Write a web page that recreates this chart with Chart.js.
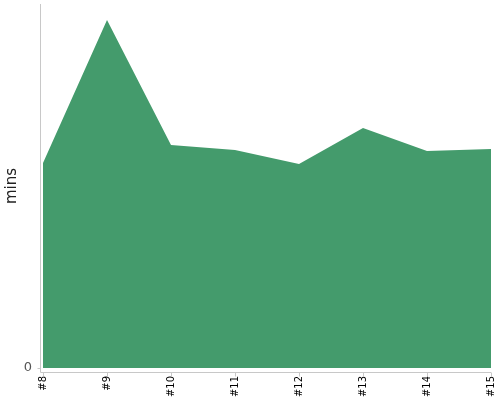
<!DOCTYPE html>
<html>
<head>
<meta charset="utf-8">
<script src="https://cdn.jsdelivr.net/npm/chart.js@4/dist/chart.umd.min.js"></script>
<style>
  html, body { margin: 0; padding: 0; background: #fff; }
  #wrap { width: 500px; height: 400px; }
</style>
</head>
<body>
<div id="wrap"><canvas id="c" width="500" height="400"></canvas></div>
<script>
const categories = ["#8", "#9", "#10", "#11", "#12", "#13", "#14", "#15"];
const minsValues = [20.5, 34.8, 22.3, 21.8, 20.4, 24.0, 21.7, 21.9];
const yTickLabels = [0];
const yMax = 36.4;

const axisLines = {
  id: 'axisLines',
  afterDraw(chart) {
    const ctx = chart.ctx;
    const a = chart.chartArea;
    const xs = chart.scales.x;
    const ys = chart.scales.y;
    ctx.save();
    ctx.strokeStyle = '#c8c8c8';
    ctx.lineWidth = 1;
    const axX = a.left - 2.5;
    const axY = a.bottom + 4.5;
    ctx.beginPath();
    ctx.moveTo(axX, a.top);
    ctx.lineTo(axX, axY);
    ctx.lineTo(a.right, axY);
    for (let i = 0; i < categories.length; i++) {
      const px = Math.round(xs.getPixelForValue(i)) + 0.5;
      ctx.moveTo(px, axY);
      ctx.lineTo(px, axY + 4);
    }
    yTickLabels.forEach(v => {
      const py = Math.round(ys.getPixelForValue(v)) + 0.5;
      ctx.moveTo(axX, py);
      ctx.lineTo(axX - 3, py);
    });
    ctx.stroke();
    ctx.restore();
  }
};

function zeroPad(scale) {
  scale.paddingLeft = 0; scale.paddingRight = 0;
  scale.paddingTop = 0; scale.paddingBottom = 0;
}

new Chart(document.getElementById('c'), {
  type: 'line',
  data: {
    labels: categories,
    datasets: [{
      label: 'mins',
      data: minsValues,
      fill: 'origin',
      backgroundColor: 'rgb(68,155,108)',
      borderWidth: 0,
      borderColor: 'rgb(68,155,108)',
      pointRadius: 0,
      tension: 0
    }]
  },
  options: {
    responsive: false,
    animation: false,
    devicePixelRatio: 1,
    layout: { padding: { top: 4, right: 9, left: 0, bottom: 0 } },
    plugins: { legend: { display: false }, tooltip: { enabled: false } },
    scales: {
      x: {
        offset: false,
        grid: { display: false, drawTicks: false },
        border: { display: false },
        ticks: {
          minRotation: 90, maxRotation: 90,
          padding: 8,
          color: '#000',
          font: { family: 'DejaVu Sans', size: 10 }
        },
        afterFit(scale) { scale.height = 32; zeroPad(scale); }
      },
      y: {
        min: 0, max: yMax,
        grid: { display: false, drawTicks: false },
        border: { display: false },
        afterBuildTicks(scale) { scale.ticks = yTickLabels.map(v => ({ value: v })); },
        ticks: {
          padding: 11,
          color: '#555',
          font: { family: 'DejaVu Sans', size: 13 }
        },
        title: {
          display: true,
          text: 'mins',
          color: '#222',
          padding: 3,
          font: { family: 'DejaVu Sans', size: 15 }
        },
        afterFit(scale) { scale.width = 43; zeroPad(scale); }
      }
    }
  },
  plugins: [axisLines]
});
</script>
</body>
</html>
